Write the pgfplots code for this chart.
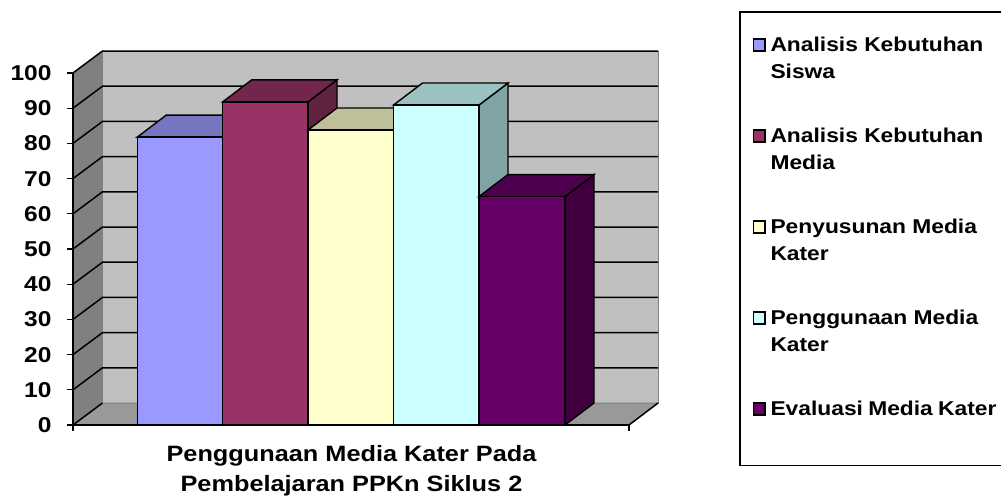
\documentclass[border=0pt]{standalone}
\usepackage{fontspec}
\setmainfont{Liberation Sans}[FakeStretch=1.14]
\usepackage{pgfplots}
\pgfplotsset{compat=1.18}
\definecolor{wall}{HTML}{C0C0C0}
\definecolor{lwall}{HTML}{808080}
\definecolor{floorc}{HTML}{999999}
\definecolor{aF}{HTML}{9999FF}\definecolor{aT}{HTML}{7575C0}\definecolor{aS}{HTML}{6666AA}
\definecolor{bF}{HTML}{993366}\definecolor{bT}{HTML}{73264D}\definecolor{bS}{HTML}{5F2340}
\definecolor{cF}{HTML}{FFFFCC}\definecolor{cT}{HTML}{BFBF99}\definecolor{cS}{HTML}{A3A382}
\definecolor{dF}{HTML}{CCFFFF}\definecolor{dT}{HTML}{99C2C0}\definecolor{dS}{HTML}{80A3A3}
\definecolor{eF}{HTML}{660066}\definecolor{eT}{HTML}{4D004D}\definecolor{eS}{HTML}{400040}
\newcommand{\lgt}[2]{\parbox[t][91pt][t]{226pt}{\baselineskip=27pt #1\\#2}}
\begin{document}
\begin{tikzpicture}[x=1pt,y=1pt]
\useasboundingbox (0,0) rectangle (1001,-496);
\draw[black,line width=1.2pt] (1010,-12) -- (740,-12) -- (740,-465.5) -- (1010,-465.5);
\begin{axis}[
  at={(73pt,-425pt)},anchor=south west,
  scale only axis,width=585pt,height=374pt,
  xmin=73,xmax=658,ymin=0,ymax=106.25,
  clip=false,
  axis line style={draw=none},
  xtick={73,629},xticklabels={,},
  ytick={0,10,20,30,40,50,60,70,80,90,100},
  xtick pos=bottom,ytick pos=left,tick align=outside,
  major tick length=6pt,
  every tick/.style={black,line width=1.3pt},
  /pgf/number format/assume math mode=true,
  tick label style={font=\fontsize{21.5}{24}\selectfont\bfseries},
  yticklabel style={xshift=-12pt},
  xlabel={Penggunaan Media Kater Pada\\Pembelajaran PPKn Siklus 2},
  xlabel style={at={(axis cs:351.5,0)},anchor=north,align=center,yshift=-17pt,
    font=\fontsize{22.2}{30}\selectfont\bfseries},
  legend style={at={(axis cs:752.5,110.3)},anchor=north west,draw=none,fill=none,inner sep=0pt,outer sep=0pt,
    font=\fontsize{20}{27}\selectfont\bfseries,
    row sep=0pt,
    nodes={inner sep=0pt,outer sep=0pt,text depth=,text height=},
    /tikz/every odd column/.append style={column sep=5pt}},
  legend cell align=left,
  legend image code/.code={\path[draw=none,fill=none] (0,0) rectangle (13pt,1pt);\draw[#1,overlay,line width=1.6pt,draw=black] (0.8pt,31pt) rectangle (12.5pt,43.5pt);},
  legend columns=1,
]
% walls
\addplot[forget plot,fill=lwall,draw=lwall,line width=1pt] coordinates {(73,0)(102.5,6.25)(102.5,106.25)(73,100)} --cycle;
\addplot[forget plot,fill=wall,draw=lwall,line width=1pt] coordinates {(102.5,6.25)(658,6.25)(658,106.25)(102.5,106.25)} --cycle;
\addplot[forget plot,fill=floorc,draw=lwall,line width=1pt] coordinates {(73,0)(102.5,6.25)(658,6.25)(629,0)} --cycle;
% gridlines
\addplot[forget plot,black,line width=1.5pt] coordinates {(73,10)(102.5,16.25)(658,16.25)};
\addplot[forget plot,black,line width=1.5pt] coordinates {(73,20)(102.5,26.25)(658,26.25)};
\addplot[forget plot,black,line width=1.5pt] coordinates {(73,30)(102.5,36.25)(658,36.25)};
\addplot[forget plot,black,line width=1.5pt] coordinates {(73,40)(102.5,46.25)(658,46.25)};
\addplot[forget plot,black,line width=1.5pt] coordinates {(73,50)(102.5,56.25)(658,56.25)};
\addplot[forget plot,black,line width=1.5pt] coordinates {(73,60)(102.5,66.25)(658,66.25)};
\addplot[forget plot,black,line width=1.5pt] coordinates {(73,70)(102.5,76.25)(658,76.25)};
\addplot[forget plot,black,line width=1.5pt] coordinates {(73,80)(102.5,86.25)(658,86.25)};
\addplot[forget plot,black,line width=1.5pt] coordinates {(73,90)(102.5,96.25)(658,96.25)};
\addplot[forget plot,black,line width=1.5pt] coordinates {(73,100)(102.5,106.25)(658,106.25)};
\addplot[forget plot,black,line width=1.5pt] coordinates {(73,0)(102.5,6.25)};
\addplot[forget plot,black,line width=1.5pt] coordinates {(629,0)(658,6.25)};
% bar 1
\addplot[forget plot,fill=aS,draw=black,line width=1.4pt] coordinates {(222.7,0)(251.7,6.25)(251.7,88.05)(222.7,81.8)} --cycle;
\addplot[forget plot,fill=aT,draw=black,line width=1.4pt] coordinates {(137.3,81.8)(166.3,88.05)(251.7,88.05)(222.7,81.8)} --cycle;
\addplot[fill=aF,draw=black,line width=1.4pt] coordinates {(137.3,0)(222.7,0)(222.7,81.8)(137.3,81.8)} --cycle;
\addlegendentry{\lgt{Analisis Kebutuhan}{Siswa}}
% bar 2
\addplot[forget plot,fill=bS,draw=black,line width=1.4pt] coordinates {(308,0)(337,6.25)(337,98.05)(308,91.8)} --cycle;
\addplot[forget plot,fill=bT,draw=black,line width=1.4pt] coordinates {(222.7,91.8)(251.7,98.05)(337,98.05)(308,91.8)} --cycle;
\addplot[fill=bF,draw=black,line width=1.4pt] coordinates {(222.7,0)(308,0)(308,91.8)(222.7,91.8)} --cycle;
\addlegendentry{\lgt{Analisis Kebutuhan}{Media}}
% bar 3
\addplot[forget plot,fill=cS,draw=black,line width=1.4pt] coordinates {(393.5,0)(422.5,6.25)(422.5,90.05)(393.5,83.8)} --cycle;
\addplot[forget plot,fill=cT,draw=black,line width=1.4pt] coordinates {(308,83.8)(337,90.05)(422.5,90.05)(393.5,83.8)} --cycle;
\addplot[fill=cF,draw=black,line width=1.4pt] coordinates {(308,0)(393.5,0)(393.5,83.8)(308,83.8)} --cycle;
\addlegendentry{\lgt{Penyusunan Media}{Kater}}
% bar 4
\addplot[forget plot,fill=dS,draw=black,line width=1.4pt] coordinates {(479,0)(508,6.25)(508,97.15)(479,90.9)} --cycle;
\addplot[forget plot,fill=dT,draw=black,line width=1.4pt] coordinates {(393.5,90.9)(422.5,97.15)(508,97.15)(479,90.9)} --cycle;
\addplot[fill=dF,draw=black,line width=1.4pt] coordinates {(393.5,0)(479,0)(479,90.9)(393.5,90.9)} --cycle;
\addlegendentry{\lgt{Penggunaan Media}{Kater}}
% bar 5
\addplot[forget plot,fill=eS,draw=black,line width=1.4pt] coordinates {(565,0)(594,6.25)(594,71.15)(565,64.9)} --cycle;
\addplot[forget plot,fill=eT,draw=black,line width=1.4pt] coordinates {(479,64.9)(508,71.15)(594,71.15)(565,64.9)} --cycle;
\addplot[fill=eF,draw=black,line width=1.4pt] coordinates {(479,0)(565,0)(565,64.9)(479,64.9)} --cycle;
\addlegendentry{\lgt{Evaluasi Media Kater}{}}
% front axis lines
\addplot[forget plot,black,line width=1.6pt] coordinates {(73,100)(73,0)(629,0)};
\end{axis}
\end{tikzpicture}
\end{document}
